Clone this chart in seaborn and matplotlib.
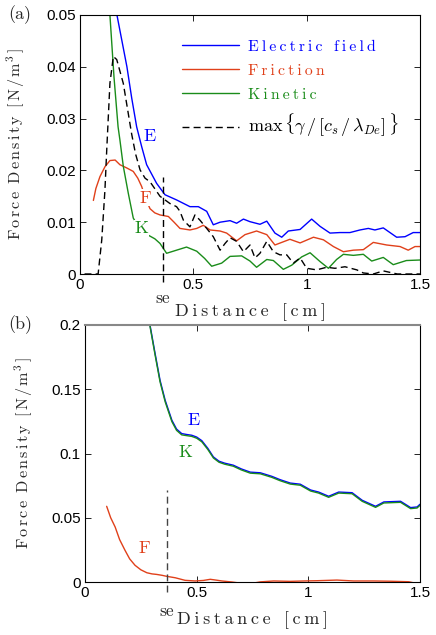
import matplotlib
matplotlib.use('Agg')
import matplotlib.pyplot as plt
import seaborn as sns
from matplotlib.ticker import FuncFormatter

# ---- panel (a) data ----
ea_x = [0.14, 0.163, 0.185, 0.207, 0.228, 0.25, 0.272, 0.294, 0.338, 0.375, 0.426, 0.485, 0.522,
        0.559, 0.588, 0.618, 0.662, 0.691, 0.721, 0.750, 0.794, 0.824, 0.860, 0.890, 0.919, 0.971,
        1.022, 1.059, 1.103, 1.147, 1.191, 1.235, 1.272, 1.301, 1.338, 1.397, 1.434, 1.470, 1.5]
ea_y = [0.056, 0.050, 0.045, 0.040, 0.034, 0.0284, 0.0246, 0.0211, 0.0175, 0.0153, 0.0143, 0.0130,
        0.0130, 0.0121, 0.0095, 0.0100, 0.0103, 0.0098, 0.0106, 0.0101, 0.0096, 0.0102, 0.0079,
        0.0071, 0.0083, 0.0086, 0.0106, 0.0092, 0.0079, 0.0080, 0.0080, 0.0085, 0.0088, 0.0085,
        0.0089, 0.0071, 0.0072, 0.0080, 0.0080]

fa_x = [0.059, 0.07, 0.088, 0.11, 0.132, 0.155, 0.176, 0.205, 0.235, 0.255, 0.272, 0.29, 0.309,
        0.33, 0.353, 0.39, 0.415, 0.441, 0.485, 0.515, 0.544, 0.574, 0.618, 0.647, 0.691, 0.728,
        0.779, 0.824, 0.860, 0.926, 0.971, 1.03, 1.074, 1.118, 1.162, 1.206, 1.25, 1.294, 1.353,
        1.412, 1.448, 1.478, 1.5]
fa_y = [0.0142, 0.0165, 0.0188, 0.0207, 0.0219, 0.0220, 0.0211, 0.0205, 0.0198, 0.0185, 0.0169,
        0.0145, 0.0126, 0.0118, 0.0114, 0.0111, 0.0100, 0.0088, 0.0085, 0.0088, 0.0094, 0.0085,
        0.0083, 0.0079, 0.0064, 0.0076, 0.0083, 0.0076, 0.0056, 0.0067, 0.0060, 0.0071, 0.0066,
        0.0053, 0.0043, 0.0046, 0.0047, 0.0061, 0.0056, 0.0053, 0.0046, 0.0053, 0.0053]

ka_x = [0.125, 0.132, 0.15, 0.168, 0.176, 0.191, 0.213, 0.235, 0.26, 0.28, 0.301, 0.33, 0.353,
        0.382, 0.426, 0.47, 0.515, 0.55, 0.581, 0.625, 0.662, 0.713, 0.75, 0.779, 0.824, 0.853,
        0.897, 0.934, 0.978, 1.015, 1.059, 1.096, 1.132, 1.162, 1.206, 1.25, 1.287, 1.338, 1.382,
        1.44, 1.5]
ka_y = [0.056, 0.050, 0.038, 0.0284, 0.0259, 0.0208, 0.0156, 0.0108, 0.0090, 0.0082, 0.0075,
        0.0068, 0.0059, 0.0040, 0.0046, 0.0052, 0.0044, 0.0030, 0.0015, 0.0021, 0.0034, 0.0035,
        0.0025, 0.0013, 0.0028, 0.0026, 0.0009, 0.0017, 0.0033, 0.0041, 0.0024, 0.0011, 0.0028,
        0.0038, 0.0036, 0.0038, 0.0025, 0.0032, 0.0018, 0.0026, 0.0027]

ga_x = [0.02, 0.05, 0.08, 0.096, 0.110, 0.118, 0.132, 0.147, 0.162, 0.191, 0.228, 0.245, 0.265,
        0.287, 0.309, 0.353, 0.397, 0.426, 0.441, 0.456, 0.485, 0.507, 0.529, 0.559, 0.588, 0.618,
        0.640, 0.662, 0.691, 0.721, 0.750, 0.772, 0.794, 0.824, 0.853, 0.882, 0.912, 0.941, 0.971,
        1.0, 1.044, 1.088, 1.125, 1.169, 1.221, 1.25, 1.294, 1.338, 1.40, 1.5]
ga_y = [0, 0, 0, 0.0066, 0.0162, 0.024, 0.0368, 0.0420, 0.0414, 0.0368, 0.027, 0.0232, 0.0201,
        0.0185, 0.0178, 0.0150, 0.0136, 0.0130, 0.0121, 0.0104, 0.0091, 0.0114, 0.0104, 0.0088,
        0.0072, 0.0046, 0.0059, 0.0070, 0.0063, 0.0043, 0.0056, 0.0031, 0.0040, 0.0063, 0.0043,
        0.0037, 0.0037, 0.0021, 0.0031, 0.0011, 0.0008, 0.0013, 0.0011, 0.0014, 0.0008, 0.0002,
        0, 0.0006, 0, 0]

# ---- panel (b) data ----
eb_x = [0.27, 0.291, 0.314, 0.336, 0.359, 0.389, 0.41, 0.433, 0.455, 0.478, 0.50, 0.523, 0.55,
        0.575, 0.60, 0.625, 0.664, 0.70, 0.74, 0.785, 0.837, 0.874, 0.919, 0.964, 1.01, 1.046,
        1.091, 1.136, 1.196, 1.241, 1.301, 1.338, 1.413, 1.458, 1.487, 1.5]
eb_y = [0.215, 0.200, 0.1777, 0.157, 0.1414, 0.1259, 0.119, 0.1155, 0.1148, 0.1142, 0.1128,
        0.1100, 0.104, 0.0973, 0.0940, 0.0925, 0.0909, 0.088, 0.0855, 0.0850, 0.0822, 0.0796,
        0.0770, 0.0761, 0.0716, 0.0700, 0.0667, 0.0700, 0.0695, 0.0636, 0.0589, 0.0623, 0.0628,
        0.0579, 0.0584, 0.0605]
kb_y = [0.214, 0.199, 0.1765, 0.1558, 0.1402, 0.1248, 0.118, 0.1145, 0.1139, 0.1133, 0.1119,
        0.1091, 0.1031, 0.0965, 0.0932, 0.0917, 0.0901, 0.0872, 0.0847, 0.0842, 0.0814, 0.0788,
        0.0762, 0.0753, 0.0708, 0.0692, 0.0659, 0.0692, 0.0687, 0.0628, 0.0581, 0.0615, 0.0620,
        0.0571, 0.0576, 0.0597]

fb_x = [0.097, 0.115, 0.135, 0.155, 0.179, 0.2, 0.224, 0.25, 0.277, 0.3, 0.321, 0.345, 0.366,
        0.404, 0.448, 0.493, 0.53, 0.561, 0.59, 0.613, 0.658, 0.70, 0.75, 0.785, 0.845, 0.919,
        0.98, 1.039, 1.128, 1.203, 1.293, 1.367, 1.45, 1.48]
fb_y = [0.0589, 0.050, 0.0428, 0.033, 0.0247, 0.018, 0.0130, 0.0095, 0.0072, 0.0063, 0.0059,
        0.0052, 0.0044, 0.0033, 0.0013, 0.0008, 0.0012, 0.0021, 0.0014, 0.0008, 0.0, -0.001,
        -0.001, 0.0001, 0.0008, 0.0005, 0.0008, 0.0010, 0.0015, 0.0008, 0.0008, 0.0006, 0.0002,
        -0.001]

se_x = 0.365
se_a = (-0.0016, 0.0188)
se_b = (-0.008, 0.0713)

labels_a = {'E': (0.309, 0.0265), 'F': (0.287, 0.0147), 'K': (0.272, 0.0088)}
labels_b = {'E': (0.486, 0.1258), 'K': (0.448, 0.1007), 'F': (0.266, 0.026)}

legend_names = ['Electric field', 'Friction', 'Kinetic']
gamma_name = r'$\max\,\{\gamma\,/\,[c_s\,/\,\lambda_{De}]\,\}$'
x_title = 'Distance [cm]'
y_title = r'$\mathrm{F\,o\,r\,c\,e\;\;D\,e\,n\,s\,i\,t\,y\;\;[\,N\,/\,m^3\,]}$'

BLUE = '#0000ff'
RED = '#e0401a'
GREEN = '#1a8c1a'
BLACK = '#000000'

sns.set_style('ticks')
plt.rcParams['font.family'] = ['Liberation Sans', 'DejaVu Sans']
plt.rcParams['mathtext.fontset'] = 'cm'
SERIF = ['cmr10', 'DejaVu Serif']


def spaced(s):
    # letter-spaced text, like the original LaTeX labels
    return '\u2009'.join(s)


def style_axes(ax, xlim, ylim, yticks):
    ax.set_xlim(*xlim)
    ax.set_ylim(*ylim)
    ax.set_xticks([0, 0.5, 1, 1.5])
    ax.set_yticks(yticks)
    fmt = FuncFormatter(lambda v, p: '%g' % round(v, 6))
    ax.xaxis.set_major_formatter(fmt)
    ax.yaxis.set_major_formatter(fmt)
    ax.tick_params(direction='in', length=4, width=0.6, top=True, right=True,
                   labelsize=11, pad=3, colors='black')
    for lab in ax.get_xticklabels() + ax.get_yticklabels():
        lab.set_family(['Liberation Sans', 'DejaVu Sans'])
    for s in ax.spines.values():
        s.set_visible(True)
        s.set_color('black')
        s.set_linewidth(0.8)
    ax.set_xlabel(spaced(x_title), family=SERIF, fontsize=13)
    ax.set_ylabel(y_title, fontsize=11.6)


fig = plt.figure(figsize=(4.36, 6.35), dpi=100)
ax1 = fig.add_axes([80 / 436, 1 - 274 / 635, 340 / 436, 259 / 635])
ax2 = fig.add_axes([85 / 436, 1 - 582 / 635, 335 / 436, 257 / 635])

# panel (a)
kw = dict(ax=ax1, sort=False, lw=1.0)
sns.lineplot(x=ea_x, y=ea_y, color=BLUE, label=spaced(legend_names[0]), **kw)
sns.lineplot(x=fa_x, y=fa_y, color=RED, label=spaced(legend_names[1]), **kw)
sns.lineplot(x=ka_x, y=ka_y, color=GREEN, label=spaced(legend_names[2]), **kw)
sns.lineplot(x=ga_x, y=ga_y, color=BLACK, linestyle=(0, (5, 3)), label=gamma_name, **kw)
ax1.vlines(se_x, se_a[0], se_a[1], colors='black', linestyles=(0, (5, 3)), lw=1.0, clip_on=False)
ax1.text(se_x, -0.0047, 'se', family=SERIF, fontsize=12.5, ha='center', va='center')
for name, col in zip(['E', 'F', 'K'], [BLUE, RED, GREEN]):
    x, y = labels_a[name]
    ax1.text(x, y, name, color=col, family=SERIF, fontsize=13, ha='center', va='center',
             bbox=dict(facecolor='white', edgecolor='none', pad=0.5))
style_axes(ax1, (0, 1.5), (0, 0.05), [0, 0.01, 0.02, 0.03, 0.04, 0.05])
leg = ax1.legend(loc='upper left', bbox_to_anchor=(0.30, 0.905), frameon=False,
                 prop=dict(family=SERIF, size=11.3), handlelength=3.6, handletextpad=0.6,
                 labelspacing=0.65, borderaxespad=0, borderpad=0)
for t, c in zip(leg.get_texts(), [BLUE, RED, GREEN, BLACK]):
    t.set_color(c)
leg.get_texts()[3].set_fontsize(13)
ax1.xaxis.set_label_coords(0.5, -0.112)
ax1.yaxis.set_label_coords(-0.156, 0.5)

# panel (b)
kw = dict(ax=ax2, sort=False, lw=1.0)
sns.lineplot(x=eb_x, y=eb_y, color=BLUE, **kw)
sns.lineplot(x=eb_x, y=kb_y, color=GREEN, **kw)
sns.lineplot(x=fb_x, y=fb_y, color=RED, **kw)
ax2.vlines(se_x, se_b[0], se_b[1], colors='#444444', linestyles=(0, (5, 3)), lw=1.0, clip_on=False)
ax2.text(se_x, -0.0228, 'se', family=SERIF, fontsize=12.5, ha='center', va='center')
for name, col in zip(['E', 'K', 'F'], [BLUE, GREEN, RED]):
    x, y = labels_b[name]
    ax2.text(x, y, name, color=col, family=SERIF, fontsize=13, ha='center', va='center')
style_axes(ax2, (0, 1.5), (0, 0.2), [0, 0.05, 0.1, 0.15, 0.2])
ax2.spines['top'].set_color('#888888')
ax2.spines['top'].set_linewidth(1.5)
ax2.xaxis.set_label_coords(0.5, -0.113)
ax2.yaxis.set_label_coords(-0.149, 0.5)

fig.text(8 / 436, 1 - 15 / 635, '(a)', family=SERIF, fontsize=13, va='center')
fig.text(8 / 436, 1 - 325 / 635, '(b)', family=SERIF, fontsize=13, va='center')

fig.savefig('out.png', dpi=100)
